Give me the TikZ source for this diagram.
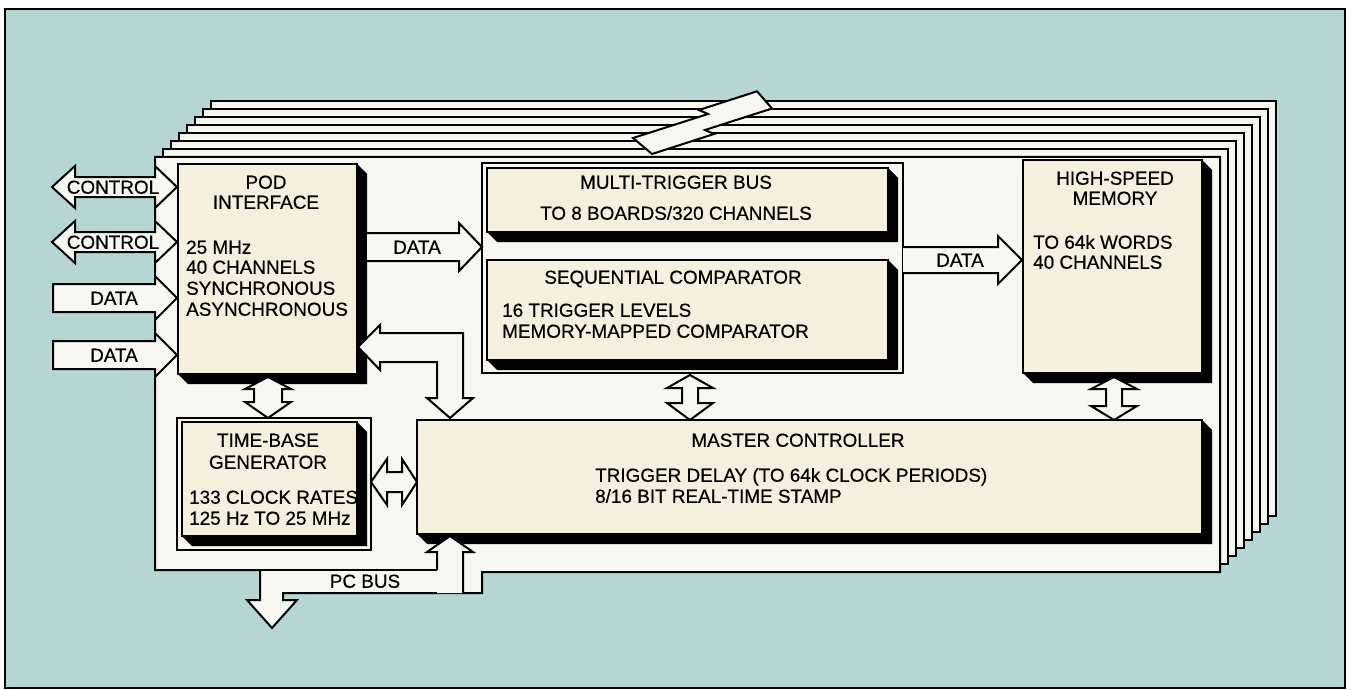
\documentclass[tikz,border=0pt]{standalone}
\usepackage{fontspec}
\setmainfont{Liberation Sans}[FakeBold=0.5]
\definecolor{bgteal}{RGB}{181,214,210}
\definecolor{boardw}{RGB}{246,246,242}
\definecolor{cream}{RGB}{244,240,221}
\tikzset{
  ln/.style={line width=2pt, line join=miter},
  cbox/.style={draw, ln, fill=cream, inner sep=0pt, outer sep=0pt, anchor=north west},
  fbox/.style={draw, ln, fill=boardw, inner sep=0pt, outer sep=0pt, anchor=north west},
  lbl/.style={inner sep=0pt, text height=13.5pt, text depth=0pt, font=\fontsize{18.9}{21}\selectfont},
  blk/.style={ln, fill=boardw},
}
\newcommand{\mkbox}[5]{%
  \fill[black] (#4,#3) -- (#4+10,#3+10) -- (#4+10,#5+10) -- (#2+10,#5+10) -- (#2,#5) -- cycle;
  \node[cbox, minimum width=#4-#2, minimum height=#5-#3] (#1) at (#2,#3) {};
}
\begin{document}
\begin{tikzpicture}[x=1pt,y=-1pt]
\useasboundingbox (0,0) rectangle (1352,690);
\fill[white] (0,0) rectangle (1352,690);
\draw[line width=1.4pt, fill=bgteal] (5,9) rectangle (1345,688);

% stacked boards (back to front)
\foreach \k in {7,6,...,1}{
  \draw[ln, fill=boardw] (155+8*\k,157-8*\k) rectangle (1220+8*\k,572-8*\k);
}
% multi-board bus (lightning band)
\draw[blk] (633,138) -- (652,154) -- (714,134) -- (705,130) -- (772,108.5)
  -- (757,91.3) -- (699,110) -- (708,114) -- cycle;

% front board with PC BUS outlet
\draw[blk] (155,157) -- (1220,157) -- (1220,572) -- (482,572) -- (482,593) -- (283,593)
  -- (283,600) -- (297,600) -- (272,628) -- (247,600) -- (260,600) -- (260,570) -- (155,570) -- cycle;
\draw[ln] (260,570) -- (437,570);

% frames
\node[fbox, minimum width=421, minimum height=210] (trigframe) at (482,163) {};
\node[fbox, minimum width=194, minimum height=132] (tbframe) at (177,418) {};

% boxes with shadows
\mkbox{pod}{178}{164}{357}{374}
\mkbox{mtb}{487}{168}{888}{232}
\mkbox{seq}{487}{260}{888}{360}
\mkbox{mem}{1023}{160}{1202}{373}
\mkbox{tbg}{182}{422}{357}{536}
\mkbox{mc}{417}{420}{1202}{534}

% left I/O arrows
\draw[blk] (52,187) -- (75,166) -- (75,177) -- (155,177) -- (155,166) -- (177,187) -- (155,208) -- (155,197) -- (75,197) -- (75,208) -- cycle;
\draw[blk] (52,242) -- (75,221) -- (75,232) -- (155,232) -- (155,221) -- (177,242) -- (155,263) -- (155,252) -- (75,252) -- (75,263) -- cycle;
\draw[blk] (53,284) -- (155,284) -- (155,276) -- (177,298) -- (155,320) -- (155,312) -- (53,312) -- cycle;
\draw[blk] (53,341) -- (155,341) -- (155,333) -- (177,355) -- (155,377) -- (155,369) -- (53,369) -- cycle;

% pod -> trigger frame DATA
\fill[boardw] (367,233) -- (459,233) -- (459,223) -- (482,247) -- (459,271) -- (459,261) -- (367,261) -- cycle;
\draw[ln] (367,233) -- (459,233) -- (459,223) -- (482,247) -- (459,271) -- (459,261) -- (367,261);
% trigger frame -> memory DATA
\fill[boardw] (903,247) -- (998,247) -- (998,236) -- (1022,260) -- (998,284) -- (998,273) -- (903,273) -- cycle;
\draw[ln] (903,247) -- (998,247) -- (998,236) -- (1022,260) -- (998,284) -- (998,273) -- (903,273);

% bent arrow pod <-> master controller
\draw[blk] (358,347) -- (380,325) -- (380,333) -- (463,333) -- (463,398) -- (473,398) -- (450,418)
  -- (427,398) -- (437,398) -- (437,362) -- (380,362) -- (380,370) -- cycle;
% pod <-> time-base
\draw[blk] (268,377) -- (291,389) -- (282,389) -- (282,402) -- (291,402) -- (268,418) -- (245,402)
  -- (254,402) -- (254,389) -- (245,389) -- cycle;
% time-base <-> master
\draw[blk] (371,482) -- (387,459) -- (387,472) -- (402,472) -- (402,459) -- (417,482) -- (402,505)
  -- (402,492) -- (387,492) -- (387,505) -- cycle;
% memory <-> master
\draw[blk] (1114,377) -- (1137,389) -- (1122,389) -- (1122,406) -- (1137,406) -- (1114,420) -- (1091,406)
  -- (1106,406) -- (1106,389) -- (1091,389) -- cycle;
% sequential comparator <-> master
\draw[blk] (690,375) -- (713,388) -- (698,388) -- (698,403) -- (713,403) -- (690,420) -- (667,403)
  -- (682,403) -- (682,388) -- (667,388) -- cycle;
% PC bus up into master
\fill[boardw] (437,570) -- (437,552) -- (427,552) -- (450,536) -- (473,552) -- (463,552) -- (463,593) -- (437,593) -- cycle;
\draw[ln] (437,570) -- (437,552) -- (427,552) -- (450,536) -- (473,552) -- (463,552) -- (463,593);

% labels
\node[lbl] (c1) at (113,187) {CONTROL};
\node[lbl] (c2) at (113,242) {CONTROL};
\node[lbl] (d1) at (114,298) {DATA};
\node[lbl] (d2) at (114,355) {DATA};
\node[lbl] (d3) at (417,247) {DATA};
\node[lbl] (d4) at (960,260) {DATA};
\node[lbl] (pc) at (365,581) {PC BUS};

\node[lbl] (podA) at (266,182) {POD};
\node[lbl] (podB) at (266,202) {INTERFACE};
\node[lbl, anchor=west] (podC) at (186,247) {25 MHz};
\node[lbl, anchor=west] (podD) at (186,267) {40 CHANNELS};
\node[lbl, anchor=west] (podE) at (186,288) {SYNCHRONOUS};
\node[lbl, anchor=west] (podF) at (186,309) {ASYNCHRONOUS};

\node[lbl] (mtbA) at (676,182) {MULTI-TRIGGER BUS};
\node[lbl] (mtbB) at (676,213) {TO 8 BOARDS/320 CHANNELS};

\node[lbl] (seqA) at (673,277) {SEQUENTIAL COMPARATOR};
\node[lbl, anchor=west] (seqB) at (502,310) {16 TRIGGER LEVELS};
\node[lbl, anchor=west] (seqC) at (502,331) {MEMORY-MAPPED COMPARATOR};

\node[lbl] (memA) at (1115,178) {HIGH-SPEED};
\node[lbl] (memB) at (1115,198) {MEMORY};
\node[lbl, anchor=west] (memC) at (1033,242) {TO 64k WORDS};
\node[lbl, anchor=west] (memD) at (1033,262) {40 CHANNELS};

\node[lbl] (tbgA) at (268,440) {TIME-BASE};
\node[lbl] (tbgB) at (268,462) {GENERATOR};
\node[lbl, anchor=west] (tbgC) at (189,497) {133 CLOCK RATES};
\node[lbl, anchor=west] (tbgD) at (189,518) {125 Hz TO 25 MHz};

\node[lbl] (mcA) at (798,440) {MASTER CONTROLLER};
\node[lbl, anchor=west] (mcB) at (595,475) {TRIGGER DELAY (TO 64k CLOCK PERIODS)};
\node[lbl, anchor=west] (mcC) at (595,496) {8/16 BIT REAL-TIME STAMP};
\end{tikzpicture}
\end{document}
